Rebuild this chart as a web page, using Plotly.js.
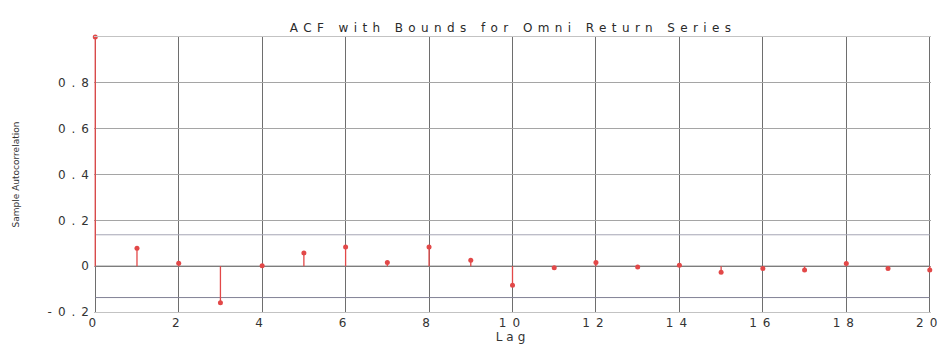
<!DOCTYPE html>
<html>
<head>
<meta charset="utf-8">
<script src="https://cdn.plot.ly/plotly-3.0.1.min.js"></script>
<style>
  html, body { margin: 0; padding: 0; background: #fff; }
  #chart { width: 948px; height: 350px; }
  /* wide, spaced lettering of the MATLAB figure */
  .gtitle { letter-spacing: 5.4px; }
  .xtick text, .ytick text { letter-spacing: 6px; }
  .g-xtitle text { letter-spacing: 4px; }
</style>
</head>
<body>
<div id="chart"></div>
<script>
// Sample autocorrelation of the Omni return series, lags 0..20
const lags = [0, 1, 2, 3, 4, 5, 6, 7, 8, 9, 10, 11, 12, 13, 14, 15, 16, 17, 18, 19, 20];
const acf = [1.0, 0.078, 0.013, -0.16, 0.002, 0.058, 0.084, 0.016, 0.084, 0.026, -0.083,
             -0.007, 0.016, -0.004, 0.004, -0.027, -0.01, -0.017, 0.012, -0.01, -0.017];
// approximate 95% confidence bounds
const bound = 0.137;
const xTicks = [0, 2, 4, 6, 8, 10, 12, 14, 16, 18, 20];
const yTicks = [-0.2, 0, 0.2, 0.4, 0.6, 0.8];
const yTickText = ['-0.2', '0', '0.2', '0.4', '0.6', '0.8'];

// stems: vertical segments from zero to each value
const stemX = [], stemY = [];
lags.forEach((l, i) => { stemX.push(l, l, null); stemY.push(0, acf[i], null); });

const red = 'rgb(226,72,72)';
const lagMin = lags[0], lagMax = lags[lags.length - 1];
// tiny padding so the lag-0 stem on the left edge is not clipped away
const pad = 0.03;

const traces = [
  { // zero baseline
    x: [lagMin, lagMax], y: [0, 0], mode: 'lines', hoverinfo: 'skip',
    line: { color: 'rgb(105,105,105)', width: 1 }
  },
  { // upper bound
    x: [lagMin, lagMax], y: [bound, bound], mode: 'lines', hoverinfo: 'skip',
    line: { color: 'rgb(165,165,180)', width: 1 }
  },
  { // lower bound
    x: [lagMin, lagMax], y: [-bound, -bound], mode: 'lines', hoverinfo: 'skip',
    line: { color: 'rgb(130,130,150)', width: 1 }
  },
  { // stems
    x: stemX, y: stemY, mode: 'lines', hoverinfo: 'skip',
    line: { color: red, width: 1.3 }
  },
  { // stem heads
    x: lags, y: acf, mode: 'markers', cliponaxis: false,
    marker: { color: red, size: 5, symbol: 'circle' }
  }
];

const layout = {
  width: 948, height: 350,
  margin: { l: 94, r: 17, t: 37, b: 38 },
  paper_bgcolor: '#fff', plot_bgcolor: '#fff',
  showlegend: false,
  font: { family: 'DejaVu Sans, sans-serif', color: '#333' },
  title: {
    text: 'ACF with Bounds for Omni Return Series',
    font: { size: 12, color: '#2a2a2a' },
    x: 0.5413, xanchor: 'center', y: 0.92, yanchor: 'middle'
  },
  xaxis: {
    range: [lagMin - pad, lagMax + pad], tickvals: xTicks, ticks: '',
    showgrid: true, gridcolor: 'rgb(110,110,110)', gridwidth: 1,
    zeroline: false, showline: true, linecolor: 'rgb(195,195,195)', mirror: true,
    tickfont: { size: 12, color: '#333' },
    title: { text: 'Lag', font: { size: 12, color: '#333' }, standoff: 1 },
    automargin: false
  },
  yaxis: {
    range: [-0.2, 1], tickvals: yTicks, ticktext: yTickText, ticks: '',
    showgrid: true, gridcolor: 'rgb(165,165,165)', gridwidth: 1,
    zeroline: false, showline: false,
    tickfont: { size: 12, color: '#333' },
    ticklabelstandoff: -2,
    title: { text: 'Sample Autocorrelation', font: { size: 9, color: '#333' }, standoff: 26 },
    automargin: false
  }
};

Plotly.newPlot('chart', traces, layout, { displayModeBar: false, staticPlot: true });
</script>
</body>
</html>
